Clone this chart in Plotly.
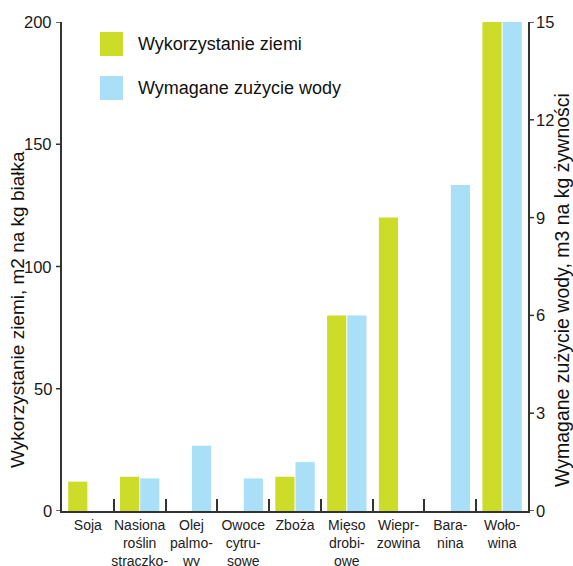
import plotly.graph_objects as go

categories = ["Soja", "Nasiona<br>roślin<br>straczko-", "Olej<br>palmo-<br>wy",
              "Owoce<br>cytru-<br>sowe", "Zboża", "Mięso<br>drobi-<br>owe",
              "Wiepr-<br>zowina", "Bara-<br>nina", "Woło-<br>wina"]
land_use = [12, 14, None, None, 14, 80, 120, None, 200]       # m2 / kg białka
water_use = [None, 1.0, 2.0, 1.0, 1.5, 6.0, None, 10.0, 15.0]  # m3 / kg żywności
left_ticks = [0, 50, 100, 150, 200]
right_ticks = [0, 3, 6, 9, 12, 15]

green = "#cddc29"
blue = "#aae0f7"
axis_col = "#333333"
text_col = "#1a1a1a"
font = "Liberation Sans, Arial, sans-serif"

# plot area in pixels: x 62..528, y 22..511
L, R, T, B = 62, 528, 22, 511
W, H = R - L, B - T
TICK = 6

fig = go.Figure()
fig.add_trace(go.Bar(x=categories, y=land_use, marker_color=green, marker_line_width=0,
                     offsetgroup="1", yaxis="y", name="Wykorzystanie ziemi",
                     showlegend=False))
fig.add_trace(go.Bar(x=categories, y=water_use, marker_color=blue, marker_line_width=0,
                     offsetgroup="2", yaxis="y2", name="Wymagane zużycie wody",
                     showlegend=False))

fig.update_layout(
    width=573, height=566,
    margin=dict(l=L, r=573 - R, t=T, b=566 - B),
    paper_bgcolor="white", plot_bgcolor="white",
    font=dict(family=font, size=15, color="#222222"),
    barmode="group", bargap=0.22, bargroupgap=0.05,
    xaxis=dict(showline=True, linecolor=axis_col, linewidth=1.5,
               ticks="inside", tickson="boundaries", ticklen=12,
               tickcolor=axis_col, tickwidth=1.5, showgrid=False,
               tickfont=dict(size=14), tickangle=0,
               automargin=False),
    yaxis=dict(range=[0, 200], showticklabels=False,
               showline=True, linecolor=axis_col, linewidth=1.5,
               ticks="", showgrid=False, zeroline=False, automargin=False),
    yaxis2=dict(range=[0, 15], showticklabels=False,
                overlaying="y", side="right",
                showline=True, linecolor=axis_col, linewidth=1.5,
                ticks="", showgrid=False, zeroline=False, automargin=False),
)

# outward tick marks and their labels on both value axes
for v in left_ticks:
    fig.add_shape(type="line", xref="paper", yref="y",
                  x0=-TICK / W, x1=0, y0=v, y1=v,
                  line=dict(color=axis_col, width=1.5))
    fig.add_annotation(text=str(v), xref="paper", yref="y",
                       x=-(TICK + 2) / W, y=v, xanchor="right", yanchor="middle",
                       showarrow=False, font=dict(size=16.5, color=text_col))
for v in right_ticks:
    fig.add_shape(type="line", xref="paper", yref="y2",
                  x0=1, x1=1 + TICK / W, y0=v, y1=v,
                  line=dict(color=axis_col, width=1.5))
    fig.add_annotation(text=str(v), xref="paper", yref="y2",
                       x=1 + (TICK + 0) / W, y=v, xanchor="left", yanchor="middle",
                       showarrow=False, font=dict(size=16.5, color=text_col))

# axis titles
fig.add_annotation(text="Wykorzystanie ziemi, m2 na kg białka", textangle=-90,
                   xref="paper", yref="paper", x=(18 - L) / W, y=(B - 310) / H,
                   xanchor="center", yanchor="middle", showarrow=False,
                   font=dict(size=19, color="#111111"))
fig.add_annotation(text="Wymagane zużycie wody, m3 na kg żywności", textangle=-90,
                   xref="paper", yref="paper", x=(562 - L) / W, y=(B - 290) / H,
                   xanchor="center", yanchor="middle", showarrow=False,
                   font=dict(size=19.5, color="#111111"))

# legend drawn as swatches with labels in the upper-left of the plot
legend_items = [("Wykorzystanie ziemi", green, 44), ("Wymagane zużycie wody", blue, 88)]
for label, col, ypix in legend_items:
    fig.add_shape(type="rect", xref="paper", yref="paper",
                  x0=(100 - L) / W, x1=(123 - L) / W,
                  y0=(B - (ypix + 12)) / H, y1=(B - (ypix - 12)) / H,
                  fillcolor=col, line_width=0)
    fig.add_annotation(text=label, xref="paper", yref="paper",
                       x=(136 - L) / W, y=(B - ypix) / H,
                       xanchor="left", yanchor="middle", showarrow=False,
                       font=dict(size=18, color="#111111"))

fig.write_html("out.html")
